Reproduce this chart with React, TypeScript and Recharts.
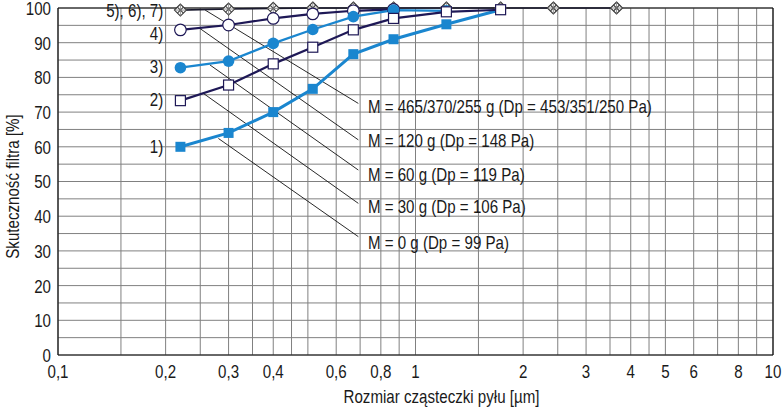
import React from 'react';
import {
  LineChart,
  Line,
  XAxis,
  YAxis,
  CartesianGrid,
  ReferenceLine,
  ReferenceDot,
} from 'recharts';

const FONT = "'Liberation Sans', Arial, sans-serif";
const FONT_SIZE = 18;
const SQUEEZE = 0.84; // fake a condensed face
const BLUE = '#1a86cf';
const NAVY = '#1e1856';

// particle sizes [µm]
const sizes = [0.22, 0.3, 0.4, 0.516, 0.67, 0.868, 1.22, 1.73];
const sizesLong = [0.22, 0.3, 0.4, 0.516, 0.67, 0.868, 1.22, 1.73, 2.43, 3.65];

// filter efficiency [%]
const s1 = [60, 64, 70, 76.7, 86.7, 91, 95.3, 99.5];
const s2 = [73.3, 77.8, 83.9, 88.7, 93.7, 97, 98.9, 99.5];
const s3 = [82.8, 84.7, 89.8, 93.8, 97.5, 99.4, 99.2];
const s4 = [93.7, 95.1, 97, 98.3, 99.2, 99.6];
const s567 = [99.4, 99.7, 99.9, 100, 100, 100, 100, 100, 100, 100];

const xGrid = [0.1, 0.15, 0.2, 0.25, 0.3, 0.35, 0.4, 0.45, 0.5, 0.6, 0.7, 0.8, 0.9, 1, 1.5, 2, 2.5, 3, 3.5, 4, 4.5, 5, 6, 7, 8, 9, 10];
const xLabels = [0.1, 0.2, 0.3, 0.4, 0.6, 0.8, 1, 2, 3, 4, 5, 6, 8, 10];
const yGrid = [0, 5, 10, 15, 20, 25, 30, 35, 40, 45, 50, 55, 60, 65, 70, 75, 80, 85, 90, 95, 100];
const yLabels = [0, 10, 20, 30, 40, 50, 60, 70, 80, 90, 100];

// annotation texts
const massLabels = [
  'M = 465/370/255 g (Dp = 453/351/250 Pa)',
  'M = 120 g (Dp = 148 Pa)',
  'M = 60 g (Dp = 119 Pa)',
  'M = 30 g (Dp = 106 Pa)',
  'M = 0 g (Dp = 99 Pa)',
];
const massLabelY = [71.5, 61.8, 52.0, 42.5, 32.4];
const massLabelX = 0.736;

// leader lines: start on series, end at text
const leaderStart = [
  { x: 0.258, y: 99.4 },
  { x: 0.2495, y: 94.1 },
  { x: 0.266, y: 83.6 },
  { x: 0.255, y: 75.4 },
  { x: 0.281, y: 62.4 },
];
const leaderEnd = [
  { x: 0.692, y: 72.5 },
  { x: 0.692, y: 62.0 },
  { x: 0.692, y: 53.3 },
  { x: 0.692, y: 43.7 },
  { x: 0.692, y: 34.1 },
];

const seriesTags = ['5), 6), 7)', '4)', '3)', '2)', '1)'];
const seriesTagY = [99.2, 92.5, 83.1, 73.5, 60.0];
const seriesTagX = 0.197;

const toPts = (xs: number[], ys: number[]) => ys.map((y, i) => ({ x: xs[i], y }));

// narrow text: scaled horizontally around its anchor point
function Txt({ x, y, anchor = 'start', rotate = 0, children }: any) {
  return (
    <text
      transform={`translate(${x},${y}) rotate(${rotate}) scale(${SQUEEZE},1)`}
      x={0}
      y={0}
      textAnchor={anchor}
      dominantBaseline="central"
      fontFamily={FONT}
      fontSize={FONT_SIZE}
      fill="#1a1a1a"
    >
      {children}
    </text>
  );
}

const XTick = (p: any) => {
  const v = p.payload.value;
  if (!xLabels.includes(v)) return <g />;
  return <Txt x={p.x} y={p.y + 9} anchor="middle">{String(v).replace('.', ',')}</Txt>;
};
const YTick = (p: any) => {
  const v = p.payload.value;
  if (!yLabels.includes(v)) return <g />;
  return <Txt x={p.x + 1} y={p.y + 1} anchor="end">{String(v)}</Txt>;
};

const FilledSquare = (p: any) => (
  <rect key={`fs-${p.index}`} x={p.cx - 5} y={p.cy - 5} width={10} height={10} fill={BLUE} />
);
const OpenSquare = (p: any) => (
  <rect key={`os-${p.index}`} x={p.cx - 5} y={p.cy - 5} width={10} height={10} fill="#fff" stroke={NAVY} strokeWidth={1.2} />
);
const FilledCircle = (p: any) => (
  <circle key={`fc-${p.index}`} cx={p.cx} cy={p.cy} r={5.8} fill={BLUE} />
);
const OpenCircle = (p: any) => (
  <circle key={`oc-${p.index}`} cx={p.cx} cy={p.cy} r={5.8} fill="#fff" stroke={NAVY} strokeWidth={1.2} />
);
const Diamond = (p: any) => {
  const { cx, cy } = p;
  const r = 6;
  const h = r / 2;
  return (
    <g key={`dm-${p.index}`}>
      <polygon points={`${cx},${cy - r} ${cx + r},${cy} ${cx},${cy + r} ${cx - r},${cy}`} fill="#fff" stroke="#333" strokeWidth={1.1} />
      <line x1={cx - h} y1={cy - h} x2={cx + h} y2={cy + h} stroke="#444" strokeWidth={1.1} />
      <line x1={cx + h} y1={cy - h} x2={cx - h} y2={cy + h} stroke="#444" strokeWidth={1.1} />
      <line x1={cx} y1={cy - r} x2={cx} y2={cy + r} stroke="#777" strokeWidth={0.8} />
      <line x1={cx - r} y1={cy} x2={cx + r} y2={cy} stroke="#777" strokeWidth={0.8} />
    </g>
  );
};

export default function App() {
  return (
    <div style={{ position: 'absolute', left: 0, top: 0, width: 783, height: 408, background: '#fff' }}>
      <LineChart width={783} height={408} margin={{ top: 8, right: 10, bottom: 0, left: 0 }}>
        <CartesianGrid stroke="#808080" strokeWidth={1} />
        <XAxis
          type="number"
          dataKey="x"
          scale="log"
          domain={[0.1, 10]}
          ticks={xGrid}
          allowDataOverflow
          height={53}
          tickLine={false}
          axisLine={{ stroke: '#111', strokeWidth: 1.2 }}
          tick={XTick}
          interval={0}
          label={{
            content: (props: any) => {
              const vb = props.viewBox;
              return (
                <Txt x={vb.x + vb.width / 2 + 26} y={vb.y + 42} anchor="middle">
                  Rozmiar cząsteczki pyłu [µm]
                </Txt>
              );
            },
          }}
        />
        <YAxis
          type="number"
          domain={[0, 100]}
          ticks={yGrid}
          width={58}
          tickLine={false}
          axisLine={{ stroke: '#111', strokeWidth: 1.2 }}
          tick={YTick}
          interval={0}
          label={{
            content: (props: any) => {
              const vb = props.viewBox;
              return (
                <Txt x={13} y={vb.y + vb.height / 2 + 5} anchor="middle" rotate={-90}>
                  Skuteczność filtra [%]
                </Txt>
              );
            },
          }}
        />
        <ReferenceLine y={100} stroke="#111" strokeWidth={1.2} />
        <ReferenceLine x={10} stroke="#111" strokeWidth={1.2} />

        {leaderStart.map((s, i) => (
          <ReferenceLine key={`ld-${i}`} segment={[s, leaderEnd[i]]} stroke="#111" strokeWidth={0.9} />
        ))}
        {massLabels.map((t, i) => (
          <ReferenceDot
            key={`ml-${i}`}
            x={massLabelX}
            y={massLabelY[i]}
            r={0}
            shape={(p: any) => <Txt x={p.cx} y={p.cy}>{t}</Txt>}
          />
        ))}
        {seriesTags.map((t, i) => (
          <ReferenceDot
            key={`st-${i}`}
            x={seriesTagX}
            y={seriesTagY[i]}
            r={0}
            shape={(p: any) => <Txt x={p.cx} y={p.cy} anchor="end">{t}</Txt>}
          />
        ))}

        <Line data={toPts(sizes, s1)} dataKey="y" stroke={BLUE} strokeWidth={3} dot={FilledSquare} isAnimationActive={false} />
        <Line data={toPts(sizesLong, s567)} dataKey="y" stroke="#1a1a2e" strokeWidth={1.6} dot={Diamond} isAnimationActive={false} />
        <Line data={toPts(sizes, s4)} dataKey="y" stroke={NAVY} strokeWidth={2.2} dot={OpenCircle} isAnimationActive={false} />
        <Line data={toPts(sizes, s3)} dataKey="y" stroke={BLUE} strokeWidth={2.2} dot={FilledCircle} isAnimationActive={false} />
        <Line data={toPts(sizes, s2)} dataKey="y" stroke={NAVY} strokeWidth={2.2} dot={OpenSquare} isAnimationActive={false} />
      </LineChart>
    </div>
  );
}
